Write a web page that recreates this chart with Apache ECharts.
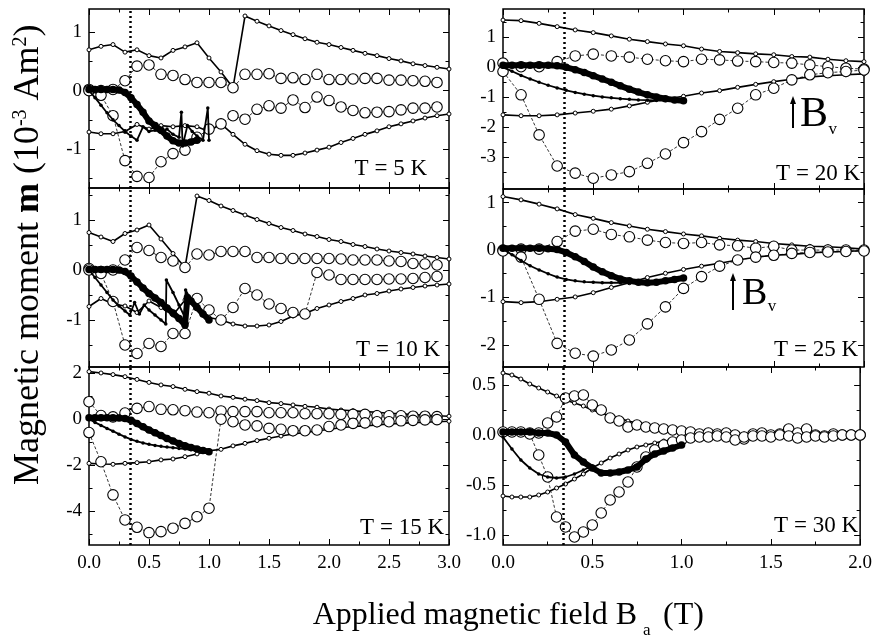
<!DOCTYPE html>
<html><head><meta charset="utf-8">
<script src="https://cdn.jsdelivr.net/npm/echarts@6/dist/echarts.min.js"></script>
<style>html,body{margin:0;padding:0;background:#fff}#c{width:875px;height:635px}</style>
</head><body><div id="c"></div><script>
// ---------- field grids (T) ----------
const FIELD_L = [0,0.1,0.2,0.3,0.4,0.5,0.6,0.7,0.8,0.9,1.0,1.1,1.2,1.3,1.4,1.5,1.6,1.7,1.8,1.9,2.0,2.1,2.2,2.3,2.4,2.5,2.6,2.7,2.8,2.9,3.0];
const FIELD_R = [0,0.1,0.2,0.3,0.4,0.5,0.6,0.7,0.8,0.9,1.0,1.1,1.2,1.3,1.4,1.5,1.6,1.7,1.8,1.9,2.0];
const FIELD_F = [0,0.05,0.1,0.15,0.2,0.25,0.3,0.35,0.4,0.45,0.5,0.55,0.6,0.65,0.7,0.75,0.8,0.85,0.9,0.95,1.0];
const FIELD_R5 = [0,0.05,0.1,0.15,0.2,0.25,0.3,0.35,0.4,0.45,0.5,0.55,0.6,0.65,0.7,0.75,0.8,0.85,0.9,0.95,1.0,1.05,1.1,1.15,1.2,1.25,1.3,1.35,1.4,1.45,1.5,1.55,1.6,1.65,1.7,1.75,1.8,1.85,1.9,1.95,2.0];
const VLINE_B = 0.345;

// ---------- T = 5 K ----------
const p1Upper = [0.70,0.76,0.79,0.66,0.70,0.60,0.56,0.69,0.75,0.82,0.56,0.32,0.05,1.28,1.19,1.11,1.03,0.96,0.89,0.83,0.79,0.74,0.69,0.64,0.60,0.55,0.51,0.46,0.43,0.40,0.37];
const p1Lower = [-0.71,-0.74,-0.74,-0.70,-0.58,-0.66,-0.60,-0.62,-0.60,-0.62,-0.70,-0.57,-0.75,-0.92,-1.03,-1.09,-1.11,-1.11,-1.07,-1.02,-0.97,-0.89,-0.82,-0.75,-0.69,-0.62,-0.57,-0.52,-0.47,-0.43,-0.40];
const p1CircUp = [0.02,0.0,0.02,0.17,0.42,0.44,0.28,0.26,0.19,0.14,0.14,0.14,0.05,0.28,0.28,0.29,0.21,0.22,0.19,0.28,0.19,0.19,0.20,0.21,0.21,0.18,0.18,0.17,0.16,0.14];
const p1CircLo = [0.0,-0.08,-0.43,-1.20,-1.47,-1.49,-1.22,-1.08,-1.02,-0.80,-0.66,-0.57,-0.43,-0.49,-0.32,-0.26,-0.30,-0.16,-0.29,-0.11,-0.17,-0.28,-0.34,-0.38,-0.37,-0.36,-0.33,-0.30,-0.30,-0.28];
const p1Virgin = [0.02,0.02,0.02,0.02,0.02,0.01,-0.03,-0.12,-0.24,-0.37,-0.52,-0.60,-0.68,-0.78,-0.86,-0.90,-0.90,-0.88,-0.85];
const p1JagB = [0,0.05,0.1,0.15,0.2,0.25,0.3,0.35,0.4,0.45,0.5,0.55,0.6,0.65,0.7,0.75,0.77,0.78,0.82,0.86,0.9,0.95,0.99,1.0];
const p1JagM = [0,-0.12,-0.25,-0.38,-0.5,-0.6,-0.7,-0.78,-0.85,-0.62,-0.7,-0.68,-0.72,-0.66,-0.75,-0.8,-0.37,-0.95,-0.6,-0.7,-0.78,-0.85,-0.3,-0.85];

// ---------- T = 10 K ----------
const p2Upper = [0.75,0.66,0.57,0.73,0.80,0.90,0.62,0.33,0.05,1.48,1.39,1.28,1.19,1.10,1.01,0.93,0.85,0.79,0.72,0.67,0.61,0.57,0.51,0.47,0.42,0.38,0.35,0.32,0.28,0.25,0.22];
const p2Lower = [-0.73,-0.57,-0.68,-0.72,-0.85,-0.62,-0.75,-0.90,-0.60,-0.72,-0.95,-1.00,-1.08,-1.12,-1.12,-1.10,-1.03,-0.92,-0.87,-0.77,-0.70,-0.63,-0.57,-0.50,-0.47,-0.42,-0.38,-0.35,-0.32,-0.30,-0.28];
const p2CircUp = [0.03,-0.03,0.0,0.20,0.45,0.39,0.25,0.18,0.05,0.32,0.30,0.37,0.37,0.37,0.25,0.25,0.23,0.23,0.23,0.23,0.23,0.22,0.20,0.20,0.20,0.18,0.17,0.13,0.12,0.10];
const p2CircLo = [0.0,-0.07,-0.63,-1.50,-1.67,-1.47,-1.53,-1.27,-1.27,-0.57,-0.80,-1.00,-0.75,-0.37,-0.50,-0.68,-0.77,-0.85,-0.88,-0.05,-0.10,-0.19,-0.19,-0.19,-0.19,-0.18,-0.18,-0.17,-0.15,-0.13];
const p2VirginB = [0,0.05,0.1,0.15,0.2,0.25,0.3,0.35,0.4,0.45,0.5,0.55,0.6,0.65,0.7,0.75,0.8,0.82,0.85,0.9,0.95,1.0];
const p2VirginM = [0.01,0.01,0.01,0.01,0.01,0,-0.03,-0.12,-0.24,-0.36,-0.47,-0.56,-0.65,-0.76,-0.86,-0.97,-1.10,-0.55,-0.62,-0.75,-0.88,-1.0];
const p2JagB = [0,0.05,0.1,0.15,0.2,0.25,0.3,0.34,0.38,0.42,0.46,0.5,0.55,0.6,0.64,0.645,0.7,0.75,0.8,0.805,0.85,0.9,0.95,1.0];
const p2JagM = [0,-0.15,-0.3,-0.45,-0.6,-0.72,-0.82,-0.9,-0.65,-0.88,-0.7,-0.8,-0.9,-1.0,-1.08,-0.2,-0.45,-0.7,-0.95,-0.4,-0.6,-0.75,-0.9,-1.0];

// ---------- T = 15 K ----------
const p3Upper = [2.06,2.00,1.93,1.84,1.72,1.59,1.48,1.41,1.29,1.19,1.12,1.00,0.94,0.86,0.80,0.71,0.67,0.61,0.55,0.51,0.43,0.39,0.36,0.32,0.29,0.25,0.22,0.19,0.16,0.14,0.12];
const p3Lower = [-1.93,-1.96,-1.97,-1.93,-1.90,-1.86,-1.78,-1.74,-1.64,-1.52,-1.38,-1.32,-1.17,-1.06,-0.94,-0.84,-0.74,-0.65,-0.59,-0.52,-0.45,-0.38,-0.33,-0.30,-0.26,-0.22,-0.19,-0.16,-0.14,-0.12,-0.10];
const p3CircUp = [0.75,0.15,0.09,0.26,0.46,0.54,0.42,0.40,0.36,0.30,0.27,0.35,0.32,0.32,0.32,0.27,0.27,0.27,0.23,0.23,0.23,0.20,0.20,0.20,0.14,0.14,0.14,0.12,0.12,0.10];
const p3CircLo = [-0.59,-1.86,-3.30,-4.39,-4.71,-4.94,-4.90,-4.75,-4.54,-4.25,-3.88,-0.01,-0.12,-0.26,-0.30,-0.41,-0.45,-0.51,-0.51,-0.48,-0.33,-0.26,-0.19,-0.17,-0.12,-0.12,-0.08,-0.06,-0.04,-0.03];
const p3Virgin = [0.05,0.05,0.05,0.05,0.05,0.04,0.02,-0.06,-0.20,-0.34,-0.48,-0.60,-0.72,-0.85,-0.96,-1.07,-1.16,-1.24,-1.31,-1.37,-1.42];
const p3Small = [0,-0.15,-0.28,-0.41,-0.53,-0.66,-0.78,-0.89,-0.97,-1.04,-1.10,-1.15,-1.19,-1.22,-1.25,-1.28,-1.31,-1.34,-1.36,-1.38,-1.42];

// ---------- T = 20 K ----------
const p4Upper = [1.58,1.56,1.47,1.36,1.25,1.16,1.05,0.94,0.86,0.78,0.72,0.61,0.53,0.49,0.45,0.42,0.36,0.34,0.27,0.22,0.19];
const p4Lower = [-1.59,-1.62,-1.62,-1.59,-1.53,-1.47,-1.40,-1.29,-1.17,-1.06,-0.97,-0.86,-0.78,-0.67,-0.57,-0.48,-0.40,-0.32,-0.28,-0.25,-0.22];
const p4CircUp = [0.14,0.02,0.02,0.19,0.38,0.44,0.38,0.34,0.27,0.22,0.19,0.27,0.25,0.21,0.19,0.16,0.14,0.08,0.02,-0.03,-0.06];
const p4CircLo = [-0.14,-0.92,-2.26,-3.30,-3.54,-3.71,-3.60,-3.49,-3.21,-2.90,-2.52,-2.15,-1.74,-1.37,-0.92,-0.70,-0.42,-0.25,-0.18,-0.14,-0.09];
const p4Virgin = [0.07,0.07,0.07,0.07,0.07,0.07,0.05,0.0,-0.08,-0.17,-0.28,-0.39,-0.50,-0.62,-0.73,-0.83,-0.92,-0.99,-1.05,-1.09,-1.12];
const p4Small = [0,-0.13,-0.27,-0.39,-0.50,-0.60,-0.69,-0.77,-0.84,-0.90,-0.95,-0.99,-1.02,-1.05,-1.07,-1.09,-1.10,-1.11,-1.11,-1.12,-1.12];

// ---------- T = 25 K ----------
const p5Upper = [1.13,1.06,0.97,0.87,0.75,0.67,0.58,0.51,0.44,0.39,0.34,0.30,0.25,0.21,0.18,0.14,0.11,0.08,0.07,0.05,0.02];
const p5Lower = [-1.09,-1.11,-1.09,-1.04,-0.99,-0.90,-0.79,-0.69,-0.58,-0.49,-0.41,-0.34,-0.28,-0.21,-0.15,-0.11,-0.09,-0.06,-0.04,-0.03,-0.01];
const p5CircUp = [0,0.02,0.02,0.18,0.40,0.44,0.33,0.28,0.21,0.16,0.14,0.16,0.11,0.09,0.04,0.08,0.0,0.0,0.0,0.0,0.0];
const p5CircLo = [-0.02,-0.15,-1.04,-1.97,-2.18,-2.24,-2.11,-1.90,-1.56,-1.20,-0.81,-0.56,-0.34,-0.21,-0.15,-0.11,-0.07,-0.05,-0.04,-0.03,-0.02];
const p5Virgin = [0.04,0.04,0.04,0.04,0.04,0.03,0.01,-0.05,-0.14,-0.24,-0.36,-0.46,-0.54,-0.61,-0.65,-0.68,-0.69,-0.68,-0.65,-0.62,-0.59];
const p5Small = [0.02,-0.10,-0.22,-0.33,-0.42,-0.50,-0.57,-0.62,-0.65,-0.67,-0.68,-0.69,-0.69,-0.69,-0.69,-0.68,-0.67,-0.65,-0.63,-0.61,-0.59];

// ---------- T = 30 K ----------
const p6Upper = [0.62,0.60,0.56,0.51,0.47,0.43,0.39,0.35,0.32,0.29,0.25,0.22,0.19,0.17,0.14,0.12,0.10,0.08,0.07,0.06,0.04,0.03,0.02,0.02,0.01,0.01,0.01,0.01,0,0,0,0,0,0,0,0,0,0,0,0,0];
const p6Lower = [-0.61,-0.62,-0.62,-0.62,-0.60,-0.57,-0.53,-0.49,-0.44,-0.39,-0.33,-0.28,-0.23,-0.19,-0.15,-0.12,-0.10,-0.08,-0.06,-0.05,-0.04,-0.03,-0.02,-0.02,-0.01,-0.01,-0.01,-0.01,0,0,0,0,0,0,0,0,0,0,0,0,0];
const p6CircUp = [0.03,0.03,0.03,0.02,0.02,0.12,0.18,0.37,0.39,0.40,0.30,0.25,0.17,0.14,0.08,0.10,0.08,0.07,0.06,0.05,0.04,0.03,0.01,0.02,0.01,0.02,0.0,-0.04,0.01,0.02,0.0,0.01,0.06,0.02,0.06,0.0,-0.01,0.01,0.0,0.0,0.0];
const p6CircLo = [null,null,null,0.01,-0.20,-0.42,-0.82,-0.92,-1.02,-0.97,-0.90,-0.78,-0.65,-0.57,-0.47,-0.32,-0.22,-0.15,-0.10,-0.07,-0.05,-0.03,-0.02,-0.02,-0.01,-0.02,-0.05,-0.02,-0.01,-0.01,-0.02,0.0,-0.01,-0.03,-0.02,-0.01,-0.02,-0.01,0.0,0.0,0.0];
const p6Virgin = [0.03,0.03,0.03,0.03,0.02,0.02,0.0,-0.07,-0.20,-0.27,-0.33,-0.38,-0.38,-0.37,-0.35,-0.32,-0.24,-0.19,-0.16,-0.13,-0.10];
const p6Small = [-0.02,-0.14,-0.25,-0.33,-0.39,-0.42,-0.43,-0.42,-0.39,-0.35,-0.31];

// ---------- axis ticks ----------
const TICKS_Y = [
  {maj:[-1,0,1], min:[-1.5,-0.5,0.5]},
  {maj:[-1,0,1], min:[-1.5,-0.5,0.5,1.5]},
  {maj:[-4,-2,0,2], min:[-5,-3,-1,1]},
  {maj:[-3,-2,-1,0,1], min:[-3.5,-2.5,-1.5,-0.5,0.5,1.5]},
  {maj:[-2,-1,0,1], min:[-1.5,-0.5,0.5]},
  {maj:[-1.0,-0.5,0.0,0.5], min:[-0.75,-0.25,0.25]}
];
const TEMPS = ['T = 5 K','T = 10 K','T = 15 K','T = 20 K','T = 25 K','T = 30 K'];

// ---------- layout ----------
const SERIF = "'Liberation Serif','DejaVu Serif','Times New Roman',serif";
const panels = [
  {g:{left:89,top:9,width:360,height:179}, xMax:3, yr:[-1.67,1.40], dec:0, xLab:false, F:FIELD_L,
   up:p1Upper, lo:p1Lower, cu:p1CircUp, cl:p1CircLo, vir:[FIELD_F,p1Virgin], sm:[p1JagB,p1JagM], tp:[427,176]},
  {g:{left:89,top:188,width:360,height:179}, xMax:3, yr:[-1.94,1.64], dec:0, xLab:false, F:FIELD_L,
   up:p2Upper, lo:p2Lower, cu:p2CircUp, cl:p2CircLo, vir:[p2VirginB,p2VirginM], sm:[p2JagB,p2JagM], tp:[440,357]},
  {g:{left:89,top:367,width:360,height:178}, xMax:3, yr:[-5.48,2.26], dec:0, xLab:true, F:FIELD_L,
   up:p3Upper, lo:p3Lower, cu:p3CircUp, cl:p3CircLo, vir:[FIELD_F,p3Virgin], sm:[FIELD_F,p3Small], tp:[444,535]},
  {g:{left:503,top:9,width:361,height:180}, xMax:2, yr:[-4.07,1.95], dec:0, xLab:false, F:FIELD_R,
   up:p4Upper, lo:p4Lower, cu:p4CircUp, cl:p4CircLo, vir:[FIELD_F,p4Virgin], sm:[FIELD_F,p4Small], tp:[860,181]},
  {g:{left:503,top:189,width:361,height:178}, xMax:2, yr:[-2.47,1.29], dec:0, xLab:false, F:FIELD_R,
   up:p5Upper, lo:p5Lower, cu:p5CircUp, cl:p5CircLo, vir:[FIELD_F,p5Virgin], sm:[FIELD_F,p5Small], tp:[858,357]},
  {g:{left:503,top:367,width:361,height:178}, xMax:2, yr:[-1.10,0.68], dec:1, xLab:true, F:FIELD_R5,
   up:p6Upper, lo:p6Lower, cu:p6CircUp, cl:p6CircLo, vir:[FIELD_F,p6Virgin], sm:[FIELD_F,p6Small], tp:[858,533]}
];

function pairs(xs, ys){
  const out = [];
  for (let i = 0; i < ys.length; i++) out.push([xs[i], ys[i] == null ? '-' : ys[i]]);
  return out;
}

const grids = [], xAxes = [], yAxes = [], series = [];
const tickStyle = {color:'#000', width:1};
panels.forEach((p, gi) => {
  grids.push(Object.assign({show:true, borderColor:'#000', borderWidth:1.5, backgroundColor:'transparent'}, p.g));
  ['bottom','top'].forEach(pos => {
    xAxes.push({type:'value', gridIndex:gi, min:0, max:p.xMax, interval:0.5, position:pos,
      axisLine:{show:false, onZero:false}, splitLine:{show:false},
      axisTick:{show:true, inside:true, length:6, lineStyle:tickStyle},
      minorTick:{show:true, splitNumber:2, length:3.5, lineStyle:tickStyle},
      axisLabel:{show: pos==='bottom' && p.xLab, color:'#000', fontFamily:SERIF, fontSize:19, margin:9,
        formatter: v => v.toFixed(1)}});
  });
  const tk = TICKS_Y[gi];
  ['left','right'].forEach(pos => {
    yAxes.push({type:'value', gridIndex:gi, min:p.yr[0], max:p.yr[1], position:pos,
      axisLine:{show:false, onZero:false}, splitLine:{show:false},
      axisTick:{show:true, inside:true, length:6, customValues:tk.maj, lineStyle:tickStyle},
      axisLabel:{show: pos==='left', customValues:tk.maj, color:'#000', fontFamily:SERIF, fontSize:19, margin:7,
        formatter: v => p.dec ? v.toFixed(1) : String(Math.round(v))}});
    yAxes.push({type:'value', gridIndex:gi, min:p.yr[0], max:p.yr[1], position:pos,
      axisLine:{show:false, onZero:false}, splitLine:{show:false},
      axisTick:{show:true, inside:true, length:3.5, customValues:tk.min, lineStyle:tickStyle},
      axisLabel:{show:false}});
  });
  const xi = gi*2, yi = gi*4;
  const base = {type:'line', xAxisIndex:xi, yAxisIndex:yi, animation:false, showAllSymbol:true, silent:true, connectNulls:false};
  // solid branches
  series.push(Object.assign({}, base, {data:pairs(p.F, p.up), symbol:'circle', symbolSize:4,
    itemStyle:{color:'#fff', borderColor:'#000', borderWidth:1}, lineStyle:{color:'#000', width:1.6}, z:2,
    markLine:{silent:true, symbol:['none','none'], label:{show:false}, animation:false,
      lineStyle:{color:'#000', width:2.5, type:[2,3]}, data:[{xAxis:VLINE_B}]}}));
  series.push(Object.assign({}, base, {data:pairs(p.F, p.lo), symbol:'circle', symbolSize:4,
    itemStyle:{color:'#fff', borderColor:'#000', borderWidth:1}, lineStyle:{color:'#000', width:1.6}, z:2}));
  // open circles
  [p.cu, p.cl].forEach(arr => {
    series.push(Object.assign({}, base, {data:pairs(p.F, arr), symbol:'circle', symbolSize:10.5,
      itemStyle:{color:'#fff', borderColor:'#000', borderWidth:1.1}, lineStyle:{color:'#000', width:0.8, type:[3,2]}, z:3}));
  });
  // small dots / jagged
  series.push(Object.assign({}, base, {data:pairs(p.sm[0], p.sm[1]), symbol:'circle', symbolSize:3.5,
    itemStyle:{color:'#000'}, lineStyle:{color:'#000', width:1.8}, z:4}));
  // virgin (big filled dots)
  series.push(Object.assign({}, base, {data:pairs(p.vir[0], p.vir[1]), symbol:'circle', symbolSize:7.5,
    itemStyle:{color:'#000'}, lineStyle:{color:'#000', width:6}, z:5}));
});

const graphics = [];
panels.forEach((p, gi) => {
  graphics.push({type:'text', x:p.tp[0], y:p.tp[1]-7, silent:true, z:10,
    style:{text:TEMPS[gi], fill:'#000', font:'23px ' + SERIF, align:'right', verticalAlign:'middle'}});
});
function bv(ax, ayTop, ayBot, bx, bBase, fs){
  graphics.push({type:'line', silent:true, z:10, shape:{x1:ax, y1:ayBot, x2:ax, y2:ayTop+6}, style:{stroke:'#000', lineWidth:2}});
  graphics.push({type:'polygon', silent:true, z:10, shape:{points:[[ax-3,ayTop+8],[ax+3,ayTop+8],[ax,ayTop]]}, style:{fill:'#000'}});
  graphics.push({type:'text', x:bx, y:bBase - 0.3*fs, silent:true, z:10,
    style:{text:'B', fill:'#000', font:fs+'px ' + SERIF, align:'left', verticalAlign:'middle'}});
  graphics.push({type:'text', x:bx + 0.68*fs, y:bBase + 2, silent:true, z:10,
    style:{text:'v', fill:'#000', font:'17px ' + SERIF, align:'left', verticalAlign:'middle'}});
}
bv(793, 96, 128, 800, 128, 42);
bv(733, 273, 310, 742, 305, 38);

// axis titles
graphics.push({type:'text', x:29, y:485, rotation:Math.PI/2, silent:true, z:10,
  style:{text:'{a|Magnetic moment }{b|m}{a| (10}{s|-3}{a| Am}{s|2}{a|)}', align:'left', verticalAlign:'middle',
    rich:{a:{fontSize:36, fontFamily:SERIF, color:'#000'},
          b:{fontSize:36, fontFamily:SERIF, fontWeight:'bold', color:'#000'},
          s:{fontSize:20, fontFamily:SERIF, color:'#000', verticalAlign:'top'}}}});
graphics.push({type:'text', x:637, y:625 - 0.3*32, silent:true, z:10,
  style:{text:'Applied magnetic field B', fill:'#000', font:'32px ' + SERIF, align:'right', verticalAlign:'middle'}});
graphics.push({type:'text', x:643, y:631, silent:true, z:10,
  style:{text:'a', fill:'#000', font:'17px ' + SERIF, align:'left', verticalAlign:'middle'}});
graphics.push({type:'text', x:663, y:625 - 0.3*32, silent:true, z:10,
  style:{text:'(T)', fill:'#000', font:'32px ' + SERIF, align:'left', verticalAlign:'middle'}});

const chart = echarts.init(document.getElementById('c'), null, {renderer:'canvas'});
chart.setOption({animation:false, backgroundColor:'#fff', grid:grids, xAxis:xAxes, yAxis:yAxes, series:series, graphic:graphics});
</script></body></html>
